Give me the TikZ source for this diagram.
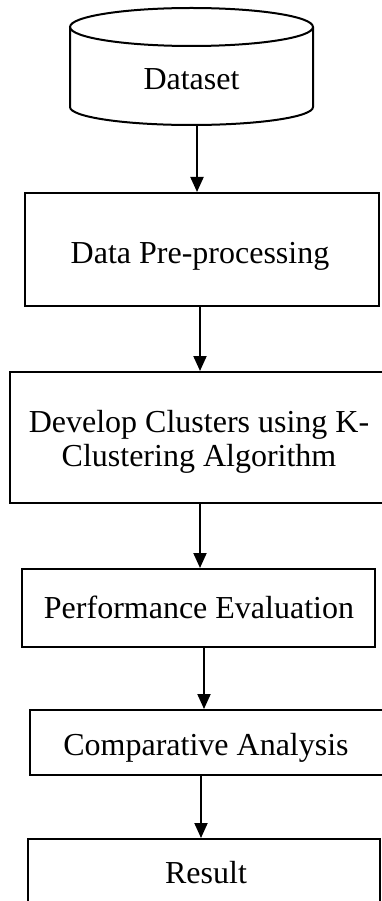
\documentclass[tikz,border=0pt]{standalone}
\usepackage{fontspec}
\setmainfont{Liberation Serif}
\usetikzlibrary{arrows.meta}
\begin{document}
\begin{tikzpicture}[x=1pt,y=1pt,
  outline/.style={draw=black,line width=2pt},
  stepbox/.style={outline,rectangle,inner sep=0pt},
  caption/.style={inner sep=0pt,align=center,
    font=\fontsize{32}{34}\selectfont},
  arr/.style={line width=2pt,-{Triangle[width=13pt,length=15pt]}}]
\useasboundingbox (0,0) rectangle (382,-901);
\clip (0,0) rectangle (382,-901);
\fill[white] (0,0) rectangle (382,-901);

% dataset cylinder
\draw[outline] (70,-27) -- (70,-107)
  arc[start angle=180,end angle=360,x radius=121.5,y radius=18] -- (313,-27);
\draw[outline] (191.5,-27) ellipse[x radius=121.5,y radius=19];
\node[inner sep=0pt,minimum width=243pt,minimum height=90pt] (ds) at (191.5,-80) {};
\node[caption,anchor=base] (dsT) at (191.5,-90) {Dataset};

% process boxes
\node[stepbox,minimum width=354pt,minimum height=113pt] (pre) at (202,-249.5) {};
\node[stepbox,minimum width=380pt,minimum height=131pt] (dev) at (200,-437.5) {};
\node[stepbox,minimum width=353pt,minimum height=78pt] (perf) at (198.5,-608) {};
\node[stepbox,minimum width=362pt,minimum height=65pt] (comp) at (211,-742.5) {};
\node[stepbox,minimum width=352pt,minimum height=80pt] (res) at (204,-879) {};

% box captions
\node[caption,anchor=base] (preT) at (200,-263) {Data Pre-processing};
\node[caption] (devT) at (199,-442) {Develop Clusters using K-\\Clustering Algorithm};
\node[caption,anchor=base] (perfT) at (199,-618) {Performance Evaluation};
\node[caption,anchor=base] (compT) at (206,-755) {Comparative Analysis};
\node[caption,anchor=base] (resT) at (206,-883) {Result};

% arrow columns
\coordinate (c1) at (197,0);
\coordinate (c2) at (200,0);
\coordinate (c3) at (200,0);
\coordinate (c4) at (204,0);
\coordinate (c5) at (201,0);

\draw[arr] (ds.south -| c1) -- (pre.north -| c1);
\draw[arr] (pre.south -| c2) -- (dev.north -| c2);
\draw[arr] (dev.south -| c3) -- (perf.north -| c3);
\draw[arr] (perf.south -| c4) -- (comp.north -| c4);
\draw[arr] (comp.south -| c5) -- (res.north -| c5);
\end{tikzpicture}
\end{document}
